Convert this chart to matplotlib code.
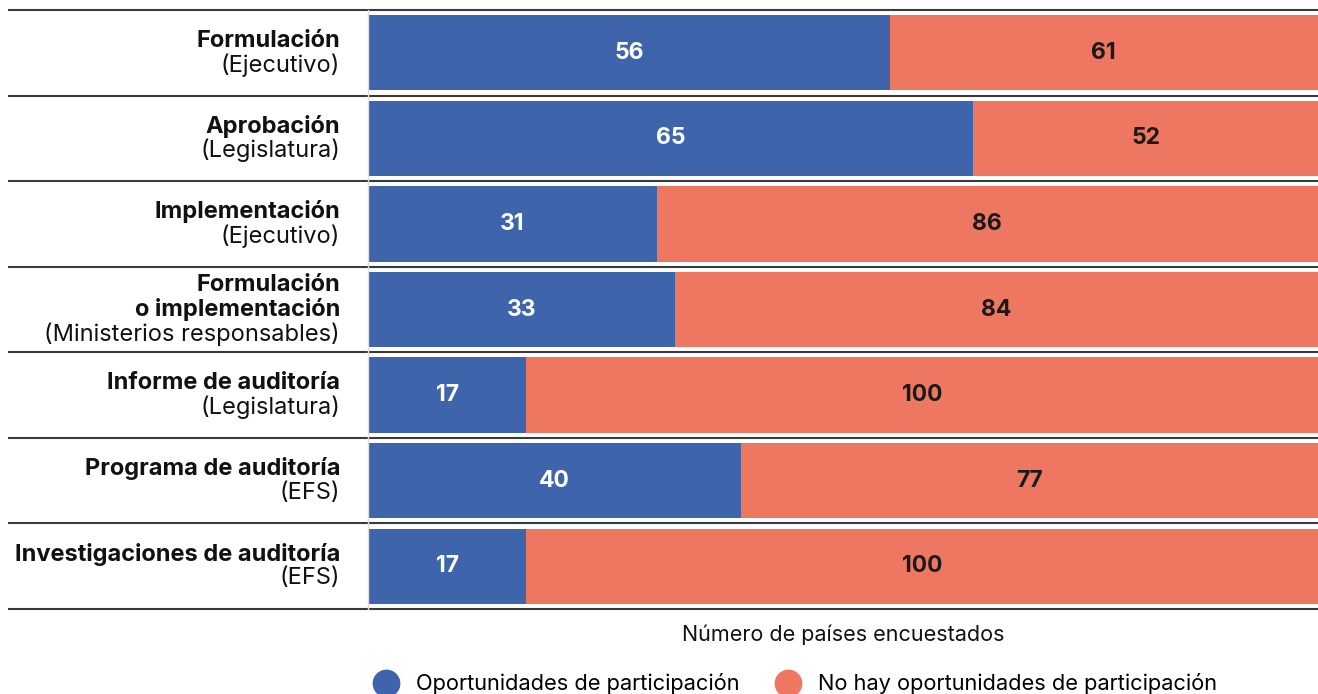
import numpy as np
import matplotlib.pyplot as plt
from matplotlib.lines import Line2D
import matplotlib.transforms as mtransforms

plt.rcParams['font.family'] = ['Inter', 'DejaVu Sans']

# data
bold_lines = [["Formulación"],
              ["Aprobación"],
              ["Implementación"],
              ["Formulación", "o implementación"],
              ["Informe de auditoría"],
              ["Programa de auditoría"],
              ["Investigaciones de auditoría"]]
sub_lines = ["(Ejecutivo)", "(Legislatura)", "(Ejecutivo)",
             "(Ministerios responsables)", "(Legislatura)", "(EFS)", "(EFS)"]
with_opp = [56, 65, 31, 33, 17, 40, 17]
no_opp = [61, 52, 86, 84, 100, 77, 100]

blue = "#3E65AC"
red = "#EE7762"

fig = plt.figure(figsize=(13.18, 6.94), dpi=100)
ax = fig.add_axes([368/1318, 1-609/694, 950/1318, 599/694])

y = np.arange(len(with_opp))
xmax = 102
ax.barh(y, with_opp, height=0.88, color=blue)
ax.barh(y, no_opp, left=with_opp, height=0.88, color=red)
ax.set_xlim(0, xmax)
ax.set_ylim(len(y) - 0.5, -0.5)

# value labels centred on the visible part of each segment
for i in range(len(y)):
    ax.text(with_opp[i] / 2, i, str(with_opp[i]), ha='center', va='center',
            color='white', fontsize=16.5, fontweight='bold')
    right = min(with_opp[i] + no_opp[i], xmax)
    ax.text((with_opp[i] + right) / 2, i, str(no_opp[i]), ha='center', va='center',
            color='#1a1a1a', fontsize=16.5, fontweight='bold')

# row labels
trans = mtransforms.blended_transform_factory(ax.transAxes, ax.transData)
for i in range(len(y)):
    lines = bold_lines[i] + [sub_lines[i]]
    n = len(lines)
    for j, s in enumerate(lines):
        off = -(j - (n - 1) / 2) * 17.5
        ax.annotate(s, xy=(-28/950, i), xycoords=trans, xytext=(0, off),
                    textcoords='offset points', ha='right', va='center',
                    fontsize=17, color='#111111',
                    fontweight='bold' if j < n - 1 else 'normal')

# separator lines
for b in np.arange(-0.5, len(y) + 0.5, 1.0):
    ax.plot([-360/950, 1], [b, b], transform=trans, color='#3a3a3a', lw=1.5,
            clip_on=False, solid_capstyle='butt')

for sp in ['top', 'right', 'bottom']:
    ax.spines[sp].set_visible(False)
ax.spines['left'].set_color('#dddddd')
ax.spines['left'].set_linewidth(1)
ax.set_xticks([])
ax.set_yticks([])

ax.set_xlabel("Número de países encuestados", fontsize=15.5, labelpad=11, color='#111111')

handles = [Line2D([], [], marker='o', ls='', markersize=19, color=blue),
           Line2D([], [], marker='o', ls='', markersize=19, color=red)]
fig.legend(handles, ["Oportunidades de participación", "No hay oportunidades de participación"],
           loc='center', bbox_to_anchor=(0.6, 1 - 684/694), ncol=2, frameon=False,
           fontsize=15.7, handletextpad=0.4, columnspacing=1.2, borderpad=0)

fig.savefig("out.png", dpi=100)
